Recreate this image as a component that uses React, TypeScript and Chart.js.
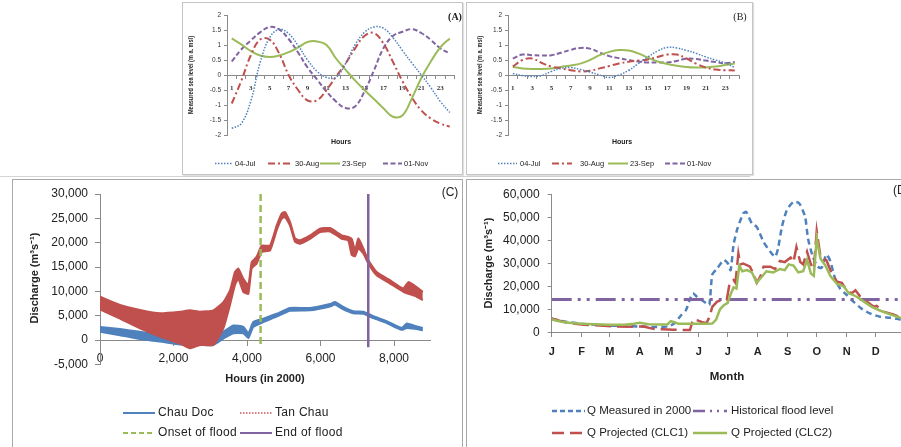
import React, { useEffect, useRef } from 'react';
import { Chart, registerables } from 'chart.js';

Chart.register(...registerables);

// ---------------- Panels A & B : measured sea level (m a. msl), hourly ----------------
const hourLabels = ['1','2','3','4','5','6','7','8','9','10','11','12','13','14','15','16','17','18','19','20','21','22','23','24'];

const seaA_Jul04 = [-1.78,-1.62,-0.88,0.42,1.25,1.52,1.38,0.98,0.5,0.12,-0.08,-0.08,0.38,1.0,1.42,1.6,1.56,1.25,0.82,0.4,0.0,-0.42,-0.88,-1.25];
const seaA_Aug30 = [-0.95,-0.2,0.65,1.18,1.18,0.72,0.0,-0.5,-0.85,-0.84,-0.5,-0.05,0.38,0.88,1.3,1.4,1.05,0.44,-0.2,-0.75,-1.18,-1.45,-1.62,-1.72];
const seaA_Sep23 = [1.22,1.02,0.8,0.65,0.6,0.65,0.76,0.92,1.1,1.12,1.0,0.55,0.18,-0.18,-0.5,-0.8,-1.11,-1.39,-1.35,-0.78,-0.1,0.45,0.92,1.22];
const seaA_Nov01 = [0.45,0.85,1.15,1.42,1.6,1.52,1.2,0.75,0.25,-0.15,-0.55,-0.88,-1.1,-1.05,-0.55,0.15,0.89,1.3,1.44,1.53,1.4,1.17,0.89,0.72];

const seaB_Jul04 = [0.05,-0.02,-0.05,-0.02,0.12,0.22,0.25,0.18,0.1,0.0,-0.08,0.0,0.15,0.38,0.6,0.8,0.92,0.9,0.82,0.72,0.6,0.5,0.4,0.25];
const seaB_Aug30 = [0.28,0.5,0.55,0.4,0.28,0.22,0.16,0.12,0.14,0.22,0.3,0.38,0.44,0.48,0.52,0.6,0.68,0.68,0.55,0.38,0.25,0.18,0.16,0.15];
const seaB_Sep23 = [0.27,0.22,0.2,0.2,0.22,0.27,0.32,0.38,0.5,0.66,0.77,0.83,0.82,0.72,0.58,0.45,0.37,0.31,0.27,0.25,0.25,0.28,0.33,0.38];
const seaB_Nov01 = [0.55,0.68,0.66,0.65,0.66,0.74,0.84,0.9,0.88,0.75,0.63,0.56,0.5,0.45,0.42,0.42,0.42,0.47,0.55,0.53,0.48,0.43,0.39,0.43];

const seaSeriesLabels = ['04-Jul', '30-Aug', '23-Sep', '01-Nov'];

// ---------------- Panel C : discharge, hours in 2000 (envelopes of hourly band) ----------------
const chauDocHours = [0,544,1088,1633,2177,2721,3084,3356,3628,3900,4036,4172,4445,4807,5170,5714,6258,6394,6621,6893,7166,7438,7800,8208,8345,8572,8784];
const chauDocUpper = [2700,2250,1700,1000,350,0,200,1700,3000,2700,1400,3700,4400,5400,6600,6600,7400,7800,6800,5900,5800,4900,3900,2500,3400,2900,2500];
const chauDocLower = [1700,1000,200,-300,-900,-1000,-1000,300,1400,1400,400,2700,3700,4800,6000,6100,6900,7300,6300,5500,5400,4500,3500,2100,2500,2300,2000];

const tanChauHours = [0,544,1088,1633,2177,2449,2721,3084,3356,3537,3673,3764,3900,4036,4127,4263,4400,4626,4807,4943,5034,5170,5306,5442,5714,5986,6258,6440,6576,6757,6848,6939,7030,7166,7302,7528,7891,8254,8390,8617,8784];
const tanChauUpper = [8900,7200,6200,5500,5800,6100,5800,6100,7800,10200,14000,14700,12600,11300,16000,17100,19400,19400,23500,26000,26300,24300,20900,20500,21500,22900,23000,22200,21500,21200,20800,18500,20900,18800,16400,14000,12300,10600,11900,10900,9900];
const tanChauLower = [6300,4400,2400,700,-700,-1700,-1000,-1000,2400,7200,11300,12600,9900,9500,14700,15700,18100,18400,22500,24900,25300,23500,20200,19800,20800,22200,22300,21500,20800,20400,17500,17200,18800,17800,15700,13300,11600,9900,9500,8900,8200];

const hourTicks = [0, 2000, 4000, 6000, 8000];
const onsetHour = [4370, 4370];
const endHour = [7300, 7300];
const markerQ = [30000, -1500];

// ---------------- Panel D : monthly discharge (x = day of year 2000) ----------------
const monthStarts = [0,31,60,91,121,152,182,213,244,274,305,335];
const monthLabels = ['J','F','M','A','M','J','J','A','S','O','N','D'];

const measDays = [0,15,31,45,60,75,91,105,115,122,127,134,139,143,146,150,155,160,163,166,171,178,182,185,188,192,198,201,207,212,219,226,231,234,238,243,250,256,262,265,270,275,279,284,288,293,298,305,312,320,329,339,350,360,366];
const measQ = [5800,4600,3700,3300,2900,2700,2500,2300,2300,2800,3900,7500,9800,14500,17000,15500,14000,12600,11900,25000,27700,31400,30000,27000,38000,45000,51600,52300,47300,45800,39300,35000,32800,36400,45800,53000,56700,56000,50200,40700,32800,28500,28000,33800,31000,23400,19100,16200,13300,10400,8200,6800,6300,5600,5400];

const floodDays = [0, 366];
const floodQ = [14300, 14300];

const clc1Days = [0,15,33,50,67,84,95,105,115,125,143,146,150,155,160,163,166,171,176,181,184,188,190,193,195,198,205,209,212,216,219,226,231,236,241,247,250,253,257,260,264,268,271,274,278,284,290,295,300,305,310,314,319,326,333,336,343,353,360,366];
const clc1Q = [6000,4200,3300,2900,2500,2450,2500,1500,1300,1100,1000,5500,5300,4500,4000,6500,11000,13300,14000,14000,21500,22700,21500,34200,29500,29900,28500,25000,21500,24500,28500,28500,27500,31000,30500,32500,30500,37000,30500,29500,35000,29500,27500,44000,32500,31300,25000,22000,21500,18300,16900,18300,15500,13300,11100,11500,9000,7800,6600,6000];

const clc2Days = [0,10,20,31,45,60,75,85,91,100,115,120,123,127,131,145,160,166,170,174,178,182,185,188,191,194,197,202,207,212,217,222,229,236,241,245,250,255,260,264,268,271,274,278,283,288,295,302,307,312,317,324,331,338,347,357,366];
const clc2Q = [5600,4600,4000,3700,3500,3300,3300,3700,4100,3500,3400,3500,4800,4400,3700,3700,3700,3800,5500,10000,11800,12800,16500,19500,19000,29000,26500,27000,26000,21500,24000,26500,26000,27500,27000,29500,29000,26000,26500,31500,25500,24500,40800,32000,29000,24500,21000,20000,17000,16200,15000,13000,11000,9700,8200,6800,5600];

// ---------------- styling ----------------
const BLUE = '#4F81BD';
const RED = '#C0504D';
const GREEN = '#9BBB59';
const PURPLE = '#8064A2';
const AXIS = '#8a8a8a';
const SANS = '"Liberation Sans", Arial, sans-serif';
const SERIF = '"Liberation Serif", "Times New Roman", serif';

type TextItem = { text: string; x: number; y: number; font: string; color?: string; align?: CanvasTextAlign; rotate?: number; maxWidth?: number };
type LegendItem = { label: string; x1: number; x2: number; tx: number; y: number; color: string; dash: number[]; width: number; font: string; spacing?: string };

function decor(texts: TextItem[], legend: LegendItem[]) {
  return {
    id: 'decor',
    afterDraw(chart: any) {
      const ctx: CanvasRenderingContext2D = chart.ctx;
      for (const t of texts) {
        ctx.save();
        ctx.font = t.font;
        ctx.fillStyle = t.color || '#222';
        ctx.textAlign = t.align || 'center';
        ctx.textBaseline = 'middle';
        ctx.translate(t.x, t.y);
        if (t.rotate) ctx.rotate(t.rotate);
        if (t.maxWidth) ctx.fillText(t.text, 0, 0, t.maxWidth);
        else ctx.fillText(t.text, 0, 0);
        ctx.restore();
      }
      for (const l of legend) {
        ctx.save();
        ctx.strokeStyle = l.color;
        ctx.lineWidth = l.width;
        ctx.setLineDash(l.dash);
        ctx.beginPath();
        ctx.moveTo(l.x1, l.y);
        ctx.lineTo(l.x2, l.y);
        ctx.stroke();
        ctx.setLineDash([]);
        ctx.font = l.font;
        (ctx as any).letterSpacing = l.spacing || '0px';
        ctx.fillStyle = '#222';
        ctx.textAlign = 'left';
        ctx.textBaseline = 'middle';
        ctx.fillText(l.label, l.tx, l.y);
        ctx.restore();
      }
    },
  };
}

const baseOptions = (padding: any) => ({
  responsive: false,
  maintainAspectRatio: false,
  animation: false as const,
  events: [] as any[],
  layout: { padding },
  plugins: { legend: { display: false }, tooltip: { enabled: false } },
});

// ---------- A / B config ----------
const seaStyles = [
  { color: BLUE, dash: [1.5, 1.5], width: 1.5 },
  { color: RED, dash: [7, 3, 2, 3], width: 2 },
  { color: GREEN, dash: [] as number[], width: 2 },
  { color: PURPLE, dash: [5, 2.5], width: 2 },
];

function makeSeaConfig(series: number[][], yAxisWidth: number, padding: any, texts: TextItem[], legendX: { x1: number; x2: number; tx: number }[]) {
  return {
    type: 'line' as const,
    data: {
      labels: hourLabels,
      datasets: series.map((d, i) => ({
        label: seaSeriesLabels[i],
        data: d,
        borderColor: seaStyles[i].color,
        borderWidth: seaStyles[i].width,
        borderDash: seaStyles[i].dash,
        pointRadius: 0,
        tension: 0.4,
        fill: false,
      })),
    },
    options: {
      ...baseOptions(padding),
      scales: {
        x: {
          type: 'category' as const,
          position: { y: 0 },
          offset: true,
          grid: { display: true, drawOnChartArea: false, drawTicks: true, tickLength: 3, color: AXIS, offset: true },
          border: { display: true, color: AXIS },
          ticks: {
            autoSkip: false,
            maxRotation: 0,
            padding: 6,
            color: '#333',
            font: { family: SERIF, size: 7, weight: 'bold' as const },
            callback: (_v: any, i: number) => (i % 2 === 0 ? hourLabels[i] : ''),
          },
        },
        y: {
          min: -2,
          max: 2,
          grid: { display: true, drawOnChartArea: false, drawTicks: true, tickLength: 3, color: AXIS },
          border: { display: true, color: AXIS },
          ticks: { stepSize: 0.5, padding: 3, color: '#333', font: { family: SANS, size: 6.5 }, callback: (v: any) => String(v) },
          afterFit: (s: any) => { s.width = yAxisWidth; },
        },
      },
    },
    plugins: [
      decor(
        texts,
        seaSeriesLabels.map((label, i) => ({
          label,
          x1: legendX[i].x1,
          x2: legendX[i].x2,
          tx: legendX[i].tx,
          y: 160.5,
          color: seaStyles[i].color,
          dash: seaStyles[i].dash,
          width: seaStyles[i].width,
          font: `7.5px ${SANS}`,
        }))
      ),
    ],
  };
}

const configA = () =>
  makeSeaConfig(
    [seaA_Jul04, seaA_Aug30, seaA_Sep23, seaA_Nov01],
    44,
    { left: 0, right: 7.5, top: 12, bottom: 39 },
    [
      { text: 'Measured sea level (m a. msl)', x: 8, y: 72, font: `bold 6.5px ${SANS}`, rotate: -Math.PI / 2, maxWidth: 78 },
      { text: 'Hours', x: 158, y: 139, font: `bold 7px ${SANS}` },
      { text: '(A)', x: 272, y: 14, font: `bold 10px ${SERIF}` },
    ],
    [
      { x1: 32, x2: 50, tx: 52 },
      { x1: 85, x2: 107, tx: 112 },
      { x1: 137, x2: 157, tx: 159 },
      { x1: 200, x2: 219, tx: 221 },
    ]
  );

const configB = () =>
  makeSeaConfig(
    [seaB_Jul04, seaB_Aug30, seaB_Sep23, seaB_Nov01],
    41,
    { left: 0, right: 12.4, top: 12, bottom: 39 },
    [
      { text: 'Measured sea level (m a. msl)', x: 13, y: 72, font: `bold 6.5px ${SANS}`, rotate: -Math.PI / 2, maxWidth: 78 },
      { text: 'Hours', x: 155, y: 139, font: `bold 7px ${SANS}` },
      { text: '(B)', x: 273, y: 14, font: `10px ${SERIF}` },
    ],
    [
      { x1: 31, x2: 50, tx: 53 },
      { x1: 85, x2: 105, tx: 113 },
      { x1: 141, x2: 161, tx: 163 },
      { x1: 198, x2: 218, tx: 220 },
    ]
  );

// ---------- C config ----------
const zip = (xs: number[], ys: number[]) => xs.map((x, i) => ({ x, y: ys[i] }));

const configC = () => ({
  type: 'line' as const,
  data: {
    datasets: [
      { label: 'Onset of flood', data: zip(onsetHour, markerQ), borderColor: GREEN, borderWidth: 2.5, borderDash: [7, 4], pointRadius: 0, fill: false, order: 0 },
      { label: 'End of flood', data: zip(endHour, markerQ), borderColor: PURPLE, borderWidth: 2.5, pointRadius: 0, fill: false, order: 0 },
      { label: 'Tan Chau', data: zip(tanChauHours, tanChauUpper), borderColor: RED, backgroundColor: RED, borderWidth: 2, pointRadius: 0, fill: '+1', order: 1, tension: 0.15 },
      { label: 'Tan Chau (low)', data: zip(tanChauHours, tanChauLower), borderColor: RED, borderWidth: 2, pointRadius: 0, fill: false, order: 1, tension: 0.15 },
      { label: 'Chau Doc', data: zip(chauDocHours, chauDocUpper), borderColor: BLUE, backgroundColor: BLUE, borderWidth: 2, pointRadius: 0, fill: '+1', order: 2, tension: 0.15 },
      { label: 'Chau Doc (low)', data: zip(chauDocHours, chauDocLower), borderColor: BLUE, borderWidth: 2, pointRadius: 0, fill: false, order: 2, tension: 0.15 },
    ],
  },
  options: {
    ...baseOptions({ left: 0, right: 31.25, top: 15, bottom: 82.6 }),
    scales: {
      x: {
        type: 'linear' as const,
        position: { y: 0 },
        min: 0,
        max: 9000,
        grid: { display: true, drawOnChartArea: false, drawTicks: true, tickLength: 5, color: AXIS },
        border: { display: true, color: AXIS },
        afterBuildTicks: (s: any) => { s.ticks = hourTicks.map((v) => ({ value: v })); },
        ticks: { autoSkip: false, padding: 6, color: '#222', font: { family: SANS, size: 12 }, callback: (v: any) => Number(v).toLocaleString('en-US'), maxRotation: 0 },
      },
      y: {
        type: 'linear' as const,
        min: -5000,
        max: 30000,
        grid: { display: true, drawOnChartArea: false, drawTicks: true, tickLength: 5, color: AXIS },
        border: { display: true, color: AXIS },
        ticks: { stepSize: 5000, padding: 7, color: '#222', font: { family: SANS, size: 12 }, callback: (v: any) => Number(v).toLocaleString('en-US') },
        afterFit: (s: any) => { s.width = 88; },
      },
    },
  },
  plugins: [
    decor(
      [
        { text: 'Discharge (m³s⁻¹)', x: 23, y: 99, font: `bold 11px ${SANS}`, rotate: -Math.PI / 2 },
        { text: 'Hours (in 2000)', x: 253, y: 200, font: `bold 11px ${SANS}` },
        { text: '(C)', x: 438, y: 14, font: `12px ${SANS}` },
      ],
      [
        { label: 'Chau Doc', x1: 111, x2: 143, tx: 146, y: 234, color: BLUE, dash: [], width: 2, font: `12px ${SANS}`, spacing: '0.3px' },
        { label: 'Tan Chau', x1: 228, x2: 260, tx: 263, y: 234, color: '#D88080', dash: [1.5, 1.5], width: 2, font: `12px ${SANS}`, spacing: '0.3px' },
        { label: 'Onset of flood', x1: 111, x2: 143, tx: 146, y: 254, color: GREEN, dash: [5, 3], width: 2, font: `12px ${SANS}`, spacing: '0.3px' },
        { label: 'End of flood', x1: 228, x2: 260, tx: 263, y: 254, color: PURPLE, dash: [], width: 2, font: `12px ${SANS}`, spacing: '0.3px' },
      ]
    ),
  ],
});

// ---------- D config ----------
const configD = () => ({
  type: 'line' as const,
  data: {
    datasets: [
      { label: 'Q Projected (CLC2)', data: zip(clc2Days, clc2Q), borderColor: GREEN, borderWidth: 2.5, pointRadius: 0, fill: false, order: 0 },
      { label: 'Q Projected (CLC1)', data: zip(clc1Days, clc1Q), borderColor: RED, borderWidth: 2.5, borderDash: [16, 6], pointRadius: 0, fill: false, order: 1 },
      { label: 'Historical flood level', data: zip(floodDays, floodQ), borderColor: PURPLE, borderWidth: 3, borderDash: [20, 6, 3, 6, 3, 6], pointRadius: 0, fill: false, order: 2 },
      { label: 'Q Measured in 2000', data: zip(measDays, measQ), borderColor: BLUE, borderWidth: 2.5, borderDash: [6, 4], pointRadius: 0, fill: false, order: 3, tension: 0.2 },
    ],
  },
  options: {
    ...baseOptions({ left: 0, right: 0.3, top: 15, bottom: 114.7 }),
    scales: {
      x: {
        type: 'linear' as const,
        position: { y: 0 },
        min: 0,
        max: 366,
        grid: { display: true, drawOnChartArea: false, drawTicks: true, tickLength: 4, color: AXIS },
        border: { display: true, color: AXIS },
        afterBuildTicks: (s: any) => { s.ticks = monthStarts.map((v) => ({ value: v })); },
        ticks: { autoSkip: false, maxRotation: 0, padding: 9, color: '#222', font: { family: SANS, size: 11, weight: 'bold' as const }, callback: (_v: any, i: number) => monthLabels[i] },
      },
      y: {
        type: 'linear' as const,
        min: 0,
        max: 60000,
        grid: { display: true, drawOnChartArea: false, drawTicks: true, tickLength: 4, color: AXIS },
        border: { display: true, color: AXIS },
        ticks: { stepSize: 10000, padding: 8, color: '#222', font: { family: SANS, size: 12 }, callback: (v: any) => Number(v).toLocaleString('en-US') },
        afterFit: (s: any) => { s.width = 85.7; },
      },
    },
  },
  plugins: [
    decor(
      [
        { text: 'Discharge (m³s⁻¹)', x: 23, y: 84, font: `bold 11px ${SANS}`, rotate: -Math.PI / 2 },
        { text: 'Month', x: 261, y: 198, font: `bold 11.5px ${SANS}` },
        { text: '(D)', x: 427, y: 12, font: `12px ${SANS}`, align: 'left' },
      ],
      [
        { label: 'Q Measured in 2000', x1: 86, x2: 119, tx: 121, y: 232, color: BLUE, dash: [5, 3], width: 2.5, font: `11.5px ${SANS}` },
        { label: 'Historical flood level', x1: 227, x2: 261, tx: 265, y: 232, color: PURPLE, dash: [12, 5, 2, 5, 2, 5], width: 2.5, font: `11.5px ${SANS}` },
        { label: 'Q Projected (CLC1)', x1: 86, x2: 119, tx: 121, y: 254, color: RED, dash: [12, 6], width: 2.5, font: `11.5px ${SANS}` },
        { label: 'Q Projected (CLC2)', x1: 227, x2: 261, tx: 265, y: 254, color: GREEN, dash: [], width: 2.5, font: `11.5px ${SANS}` },
      ]
    ),
  ],
});

function ChartCanvas({ make, left, top, width, height }: { make: () => any; left: number; top: number; width: number; height: number }) {
  const ref = useRef<HTMLCanvasElement>(null);
  useEffect(() => {
    const chart = new Chart(ref.current as HTMLCanvasElement, make());
    return () => chart.destroy();
  }, []);
  return <canvas ref={ref} width={width} height={height} style={{ position: 'absolute', left, top, width, height }} />;
}

const box = (left: number, top: number, width: number, height: number, color: string, shadow = false): React.CSSProperties => ({
  position: 'absolute',
  left,
  top,
  width,
  height,
  border: `1px solid ${color}`,
  boxSizing: 'border-box',
  background: '#fff',
  boxShadow: shadow ? '1px 1px 1px rgba(0,0,0,0.12)' : undefined,
});

export default function App() {
  return (
    <div style={{ position: 'absolute', left: 0, top: 0, width: 901, height: 447, overflow: 'hidden', background: '#fff' }}>
      <div style={{ position: 'absolute', left: 0, top: 176, width: 750, height: 1, background: '#d4d4d4' }} />
      <div style={box(182, 2, 281, 173, '#c4c4c4', true)} />
      <div style={box(466, 2, 287, 173, '#c4c4c4', true)} />
      <div style={box(12, 179, 451, 280, '#a8a8a8')} />
      <div style={box(466, 179, 450, 280, '#a8a8a8')} />
      <ChartCanvas make={configA} left={183} top={3} width={279} height={171} />
      <ChartCanvas make={configB} left={467} top={3} width={285} height={171} />
      <ChartCanvas make={configC} left={12} top={179} width={450} height={268} />
      <ChartCanvas make={configD} left={466} top={179} width={440} height={268} />
    </div>
  );
}
